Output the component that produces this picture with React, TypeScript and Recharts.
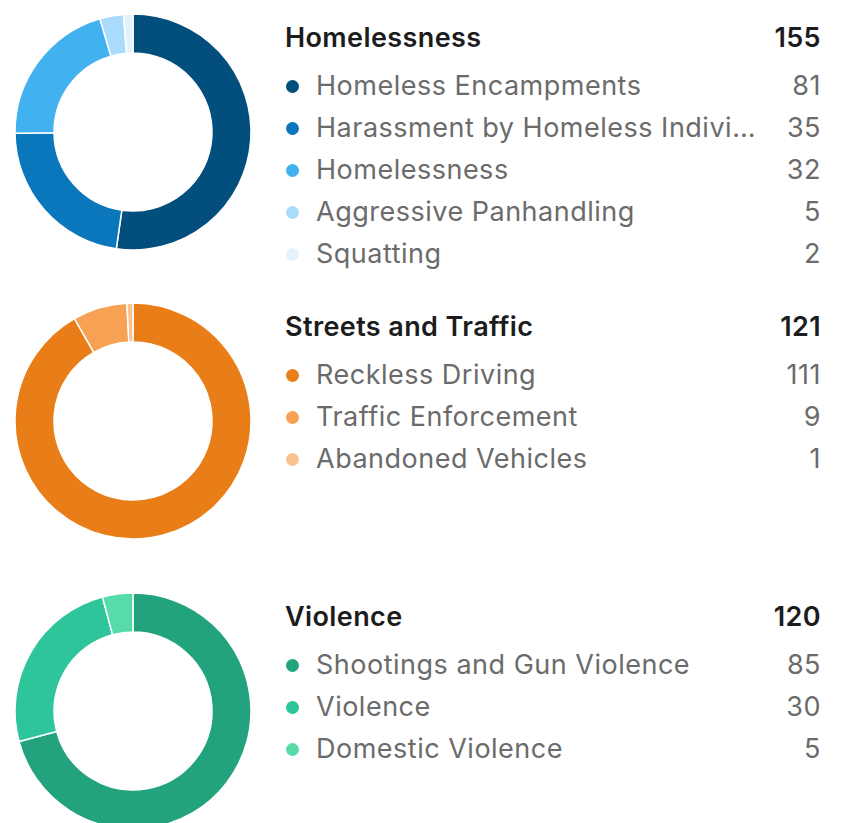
import { PieChart, Pie, Cell } from 'recharts'

const homelessNames = ['Homeless Encampments', 'Harassment by Homeless Individuals', 'Homelessness', 'Aggressive Panhandling', 'Squatting']
const homelessValues = [81, 35, 32, 5, 2]
const homelessColors = ['#024e7c', '#0a77bd', '#41b1ef', '#a9dcfc', '#e3f3fd']

const trafficNames = ['Reckless Driving', 'Traffic Enforcement', 'Abandoned Vehicles']
const trafficValues = [111, 9, 1]
const trafficColors = ['#e97e18', '#f6a153', '#f9c28f']

const violenceNames = ['Shootings and Gun Violence', 'Violence', 'Domestic Violence']
const violenceValues = [85, 30, 5]
const violenceColors = ['#22a37e', '#2ec59a', '#56dba9']

const groups = [
  { title: 'Homelessness', names: homelessNames, values: homelessValues, colors: homelessColors },
  { title: 'Streets and Traffic', names: trafficNames, values: trafficValues, colors: trafficColors },
  { title: 'Violence', names: violenceNames, values: violenceValues, colors: violenceColors },
]

const blockTops = [0, 289, 579]

function Group({ title, names, values, colors, top }: any) {
  const data = names.map((name: string, i: number) => ({ name, value: values[i] }))
  const total = values.reduce((a: number, b: number) => a + b, 0)

  return (
    <div style={{ position: 'absolute', top, left: 0, width: 843, height: 289 }}>
      {/* donut */}
      <div style={{ position: 'absolute', left: 0, top: 0 }}>
        <PieChart width={266} height={266} margin={{ top: 0, right: 0, bottom: 0, left: 0 }}>
          <Pie
            data={data}
            dataKey="value"
            cx={133}
            cy={132}
            innerRadius={79}
            outerRadius={118}
            startAngle={90}
            endAngle={-270}
            stroke="#ffffff"
            strokeWidth={1.5}
            isAnimationActive={false}
          >
            {data.map((_: any, i: number) => (
              <Cell key={`cell-${i}`} fill={colors[i]} />
            ))}
          </Pie>
        </PieChart>
      </div>

      {/* legend */}
      <div style={{ position: 'absolute', left: 285, top: 18, width: 536 }}>
        <div style={{ display: 'flex', justifyContent: 'space-between', height: 38, alignItems: 'center', fontWeight: 600, fontSize: 27, letterSpacing: 0.4, color: '#1c1c1c' }}>
          <span>{title}</span>
          <span>{total}</span>
        </div>
        <div style={{ marginTop: 8 }}>
          {names.map((name: string, i: number) => (
            <div key={i} style={{ display: 'flex', alignItems: 'center', height: 42, fontSize: 27, letterSpacing: 0.5, color: '#6b6b6b' }}>
              <div style={{ width: 13, height: 13, borderRadius: '50%', backgroundColor: colors[i], flexShrink: 0, marginLeft: 1, marginTop: 3 }} />
              <span style={{ flex: 1, marginLeft: 17, marginRight: 28, overflow: 'hidden', whiteSpace: 'nowrap', textOverflow: 'ellipsis' }}>{name}</span>
              <span style={{ flexShrink: 0 }}>{values[i]}</span>
            </div>
          ))}
        </div>
      </div>
    </div>
  )
}

export default function App() {
  return (
    <div style={{ position: 'absolute', top: 0, left: 0, width: 843, height: 823, overflow: 'hidden', background: '#fff', fontFamily: 'Inter, sans-serif' }}>
      {groups.map((g, i) => (
        <Group key={i} {...g} top={blockTops[i]} />
      ))}
    </div>
  )
}
